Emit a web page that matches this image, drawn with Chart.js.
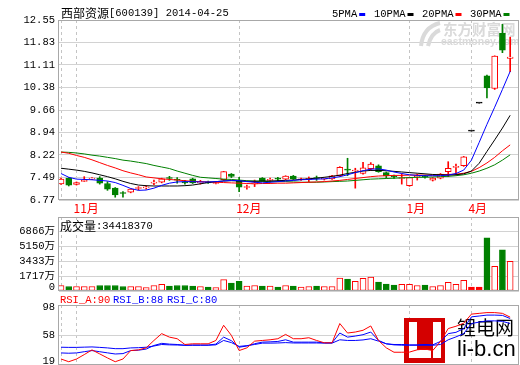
<!DOCTYPE html>
<html>
<head>
<meta charset="utf-8">
<script src="https://cdn.jsdelivr.net/npm/chart.js@4.4.1/dist/chart.umd.min.js"></script>
<style>
  body { margin: 0; background: #fff; width: 520px; height: 365px; overflow: hidden; position: relative; }
  canvas { position: absolute; left: 0; }
</style>
</head>
<body>
<canvas id="price_chart" width="520" height="215" style="top:0"></canvas>
<canvas id="volume_chart" width="520" height="77" style="top:215px"></canvas>
<canvas id="rsi_chart" width="520" height="73" style="top:292px"></canvas>
<script>
// 西部资源 600139, 59 trading days up to 2014-04-25
const stockName = '西部资源';
const stockCode = '600139';
const tradeDate = '2014-04-25';
const lastVolume = '34418370';

const monthTicks = [0, 2, 23, 45, 53]; // day index where a month starts
const monthLabels = ['', '11月', '12月', '1月', '4月'];

const openPrices = [7.29, 7.47, 7.27, 7.37, 7.44, 7.47, 7.30, 7.15, 7.00, 7.02,
    7.14, 7.16, 7.31, 7.34, 7.48, 7.43, 7.35, 7.45, 7.32, 7.34,
    7.30, 7.42, 7.60, 7.38, 7.17, 7.29, 7.47, 7.40, 7.46, 7.44,
    7.54, 7.42, 7.43, 7.48, 7.44, 7.45, 7.55, 7.76, 7.70, 7.62,
    7.78, 7.87, 7.65, 7.53, 7.46, 7.23, 7.52, 7.53, 7.41, 7.47,
    7.68, 7.82, 7.87, 8.98, 9.88, 10.76, 10.35, 12.12, 11.32];
const highPrices = [7.47, 7.49, 7.35, 7.52, 7.49, 7.52, 7.36, 7.17, 7.04, 7.13,
    7.20, 7.23, 7.41, 7.47, 7.53, 7.49, 7.40, 7.47, 7.40, 7.38,
    7.34, 7.69, 7.62, 7.50, 7.25, 7.41, 7.49, 7.47, 7.50, 7.55,
    7.56, 7.47, 7.51, 7.54, 7.48, 7.56, 7.84, 8.11, 7.79, 7.98,
    7.97, 7.90, 7.67, 7.57, 7.61, 7.50, 7.60, 7.56, 7.49, 7.62,
    8.00, 7.92, 8.17, 8.98, 9.88, 10.78, 11.40, 12.41, 12.00];
const lowPrices = [7.27, 7.22, 7.25, 7.36, 7.42, 7.28, 7.08, 6.86, 6.86, 7.00,
    7.09, 7.12, 7.26, 7.32, 7.40, 7.31, 7.28, 7.30, 7.28, 7.30,
    7.29, 7.40, 7.49, 7.04, 7.12, 7.20, 7.37, 7.34, 7.38, 7.42,
    7.43, 7.40, 7.36, 7.40, 7.41, 7.43, 7.53, 7.55, 7.15, 7.60,
    7.72, 7.66, 7.47, 7.46, 7.28, 7.21, 7.41, 7.47, 7.38, 7.45,
    7.52, 7.58, 7.85, 8.98, 9.88, 10.05, 10.32, 11.50, 10.89];
const closePrices = [7.44, 7.25, 7.33, 7.39, 7.45, 7.31, 7.12, 6.93, 6.98, 7.12,
    7.15, 7.18, 7.33, 7.45, 7.46, 7.41, 7.32, 7.32, 7.34, 7.32,
    7.32, 7.68, 7.53, 7.18, 7.19, 7.31, 7.39, 7.42, 7.44, 7.54,
    7.45, 7.44, 7.45, 7.46, 7.46, 7.55, 7.82, 7.73, 7.72, 7.80,
    7.92, 7.68, 7.54, 7.51, 7.48, 7.49, 7.54, 7.51, 7.47, 7.60,
    7.79, 7.84, 8.16, 8.98, 9.88, 10.37, 11.39, 11.58, 11.36];

const ma5 = [7.62, 7.50, 7.44, 7.43, 7.42, 7.40, 7.38, 7.33, 7.24, 7.14,
    7.08, 7.09, 7.15, 7.24, 7.31, 7.35, 7.36, 7.36, 7.35, 7.35,
    7.36, 7.38, 7.40, 7.39, 7.36, 7.34, 7.32, 7.34, 7.36, 7.38,
    7.40, 7.42, 7.43, 7.44, 7.45, 7.48, 7.52, 7.58, 7.65, 7.71,
    7.76, 7.77, 7.73, 7.67, 7.62, 7.58, 7.56, 7.55, 7.55, 7.55,
    7.57, 7.62, 7.73, 8.05, 8.62, 9.20, 9.75, 10.32, 10.90];
const ma10 = [7.79, 7.76, 7.73, 7.69, 7.64, 7.58, 7.52, 7.45, 7.37, 7.30,
    7.25, 7.23, 7.22, 7.22, 7.22, 7.22, 7.23, 7.25, 7.29, 7.33,
    7.36, 7.38, 7.39, 7.38, 7.37, 7.37, 7.38, 7.38, 7.39, 7.40,
    7.41, 7.43, 7.45, 7.47, 7.50, 7.53, 7.57, 7.62, 7.66, 7.70,
    7.72, 7.72, 7.71, 7.69, 7.67, 7.65, 7.63, 7.61, 7.59, 7.58,
    7.57, 7.58, 7.61, 7.70, 7.95, 8.33, 8.70, 9.08, 9.49];
const ma20 = [8.31, 8.27, 8.20, 8.14, 8.06, 7.97, 7.88, 7.80, 7.71, 7.64,
    7.58, 7.51, 7.48, 7.45, 7.43, 7.41, 7.39, 7.37, 7.36, 7.35,
    7.34, 7.33, 7.32, 7.31, 7.30, 7.29, 7.30, 7.30, 7.31, 7.31,
    7.32, 7.33, 7.34, 7.35, 7.36, 7.38, 7.40, 7.43, 7.46, 7.49,
    7.52, 7.54, 7.55, 7.56, 7.56, 7.57, 7.57, 7.57, 7.57, 7.58,
    7.59, 7.60, 7.63, 7.69, 7.81, 7.96, 8.14, 8.35, 8.54];
const ma30 = [8.31, 8.30, 8.28, 8.25, 8.21, 8.18, 8.14, 8.10, 8.05, 8.02,
    7.98, 7.94, 7.88, 7.83, 7.78, 7.70, 7.63, 7.56, 7.50, 7.48,
    7.46, 7.44, 7.43, 7.41, 7.39, 7.38, 7.37, 7.36, 7.36, 7.36,
    7.35, 7.34, 7.34, 7.34, 7.35, 7.36, 7.37, 7.38, 7.40, 7.42,
    7.44, 7.45, 7.46, 7.47, 7.48, 7.49, 7.50, 7.50, 7.51, 7.52,
    7.53, 7.55, 7.58, 7.63, 7.70, 7.79, 7.90, 8.05, 8.22];

// volume in 万 (10k shares)
const volumes = [640, 525, 525, 525, 525, 640, 640, 640, 525, 525,
    525, 410, 640, 760, 560, 640, 640, 560, 525, 445,
    410, 1310, 910, 1110, 560, 640, 560, 560, 445, 640,
    560, 445, 525, 560, 525, 525, 1495, 1380, 1110, 1460,
    1610, 1030, 795, 680, 760, 760, 640, 680, 525, 640,
    990, 760, 1225, 445, 445, 6165, 2860, 4765, 3442];

const rsiA = [26.9, 23.3, 26.9, 32.7, 38.9, 33.6, 28.3, 23.3, 26.9, 38.0,
    38.9, 41.6, 51.3, 60.3, 55.7, 53.6, 46.0, 46.9, 46.9, 46.9,
    51.3, 71.3, 58.0, 38.0, 41.6, 50.4, 51.3, 52.2, 53.6, 59.3,
    53.6, 53.6, 54.9, 51.3, 48.2, 48.2, 73.6, 61.1, 62.4, 64.7,
    70.4, 51.3, 41.6, 35.8, 35.8, 36.0, 39.0, 40.0, 38.0, 50.0,
    67.0, 70.0, 74.0, 86.0, 87.0, 88.0, 88.0, 87.0, 82.0];
const rsiB = [34.9, 34.5, 34.9, 36.5, 38.0, 36.5, 35.0, 33.5, 34.0, 38.0,
    38.5, 40.0, 44.7, 47.5, 46.5, 46.0, 45.0, 45.3, 45.3, 45.3,
    46.5, 55.7, 51.0, 42.4, 44.0, 47.0, 49.1, 49.5, 50.0, 52.2,
    49.1, 49.1, 49.1, 49.1, 48.2, 48.2, 61.1, 55.7, 57.1, 58.9,
    62.4, 51.3, 46.9, 46.0, 46.0, 45.5, 45.5, 46.0, 45.5, 50.0,
    60.3, 62.0, 66.9, 82.4, 83.5, 84.7, 84.7, 84.3, 80.2];
const rsiC = [42.4, 42.2, 42.2, 42.5, 42.8, 42.2, 41.5, 40.5, 40.5, 41.5,
    41.8, 42.4, 44.0, 46.0, 45.5, 45.3, 45.0, 45.0, 45.0, 45.0,
    45.5, 51.3, 48.5, 43.5, 44.5, 46.0, 47.8, 47.8, 48.0, 48.5,
    48.0, 48.0, 48.0, 48.0, 47.8, 47.8, 52.2, 51.3, 51.3, 52.0,
    53.6, 50.4, 46.9, 45.5, 45.1, 45.0, 45.0, 45.0, 45.0, 46.0,
    52.2, 56.0, 60.3, 73.6, 75.5, 77.1, 77.1, 76.5, 73.6];
const rsiLast = { a: 90, b: 88, c: 80 };

const priceTicks = [6.77, 7.49, 8.22, 8.94, 9.66, 10.38, 11.11, 11.83, 12.55];
const volumeTicks = [0, 1717, 3433, 5150, 6866];
const volumeTickLabels = ['0', '1717万', '3433万', '5150万', '6866万'];
const rsiTicks = [19, 58, 98];

const UP = '#ff0000', DOWN = '#008000', FLAT = '#000000';
const MONO = '"Liberation Mono", "DejaVu Sans Mono", monospace';
const CJK = '"Noto Sans CJK SC", sans-serif';
const tickFont = { family: '"Liberation Mono", "Noto Sans CJK SC", monospace', size: 10.5 };

const dir = closePrices.map((c, i) => c > openPrices[i] ? 1 : (c < openPrices[i] ? -1 : 0));
const pts = arr => arr.map((v, i) => ({ x: i, y: v }));

function xAxis(showLabels) {
    return {
        type: 'linear', min: -0.26, max: 59.14, offset: false,
        afterBuildTicks: s => { s.ticks = monthTicks.map(v => ({ value: v })); },
        afterFit: s => {
            s.height = showLabels ? 15 : 0;
            s.paddingLeft = s.paddingRight = s.paddingTop = s.paddingBottom = 0;
        },
        grid: { color: '#c4c4c4', drawTicks: false, offset: false },
        border: { display: false, dash: [3, 3] },
        ticks: {
            display: showLabels, color: '#ff0000', autoSkip: false, maxRotation: 0,
            align: 'start', labelOffset: -3, padding: 1,
            font: { family: CJK, size: 12 },
            callback: (v, i) => monthLabels[i]
        }
    };
}

function yAxis(min, max, ticks, label) {
    return {
        min: min, max: max,
        afterBuildTicks: s => { s.ticks = ticks.map(v => ({ value: v })); },
        afterFit: s => {
            s.width = 59;
            s.paddingLeft = s.paddingRight = s.paddingTop = s.paddingBottom = 0;
        },
        grid: { color: '#d2d2d2', drawTicks: false },
        border: { display: false },
        ticks: { color: '#000', font: tickFont, padding: 4, autoSkip: false, callback: label }
    };
}

// grey frame round each panel
const panelFrame = {
    id: 'panelFrame',
    afterDraw(chart) {
        const { ctx, chartArea: a } = chart;
        ctx.save();
        ctx.strokeStyle = '#a8a8a8';
        ctx.lineWidth = 1;
        ctx.strokeRect(a.left - 0.5, a.top + 0.5, a.right - a.left, a.bottom - a.top - 1);
        ctx.restore();
    }
};

// keep the end tick labels inside their panel
const clampLabels = {
    id: 'clampLabels',
    beforeDraw(chart) {
        const a = chart.chartArea;
        chart.scales.y.getLabelItems().forEach(item => {
            const t = item.options.translation;
            t[1] = Math.min(Math.max(t[1], a.top + 2), a.bottom - 4);
        });
    }
};

const priceHeader = {
    id: 'priceHeader',
    beforeDatasetsDraw(chart) {
        const ctx = chart.ctx;
        ctx.save();
        ctx.fillStyle = '#dadada';
        ctx.strokeStyle = '#dadada';
        ctx.lineWidth = 4;
        ctx.beginPath();
        ctx.moveTo(421, 46);
        ctx.quadraticCurveTo(423, 27, 440, 23);
        ctx.stroke();
        ctx.beginPath();
        ctx.moveTo(428, 46);
        ctx.quadraticCurveTo(431, 33, 440, 30);
        ctx.stroke();
        ctx.textBaseline = 'middle';
        ctx.font = 'bold 14.5px ' + CJK;
        ctx.fillText('东方财富网', 443, 29);
        ctx.font = 'bold 10.5px "Liberation Sans", sans-serif';
        ctx.fillText('eastmoney.com', 441, 42);
        ctx.restore();
    },
    afterDraw(chart) {
        const ctx = chart.ctx;
        ctx.save();
        ctx.textBaseline = 'middle';
        ctx.fillStyle = '#000';
        ctx.font = '12px ' + CJK;
        ctx.fillText(stockName, 61, 13);
        const w = ctx.measureText(stockName).width;
        ctx.font = '10.5px ' + MONO;
        ctx.fillText('[' + stockCode + '] ' + tradeDate, 61 + w, 13.5);
        const legend = [['5PMA', '#0000ff', 332], ['10PMA', '#000000', 374], ['20PMA', '#ff0000', 422], ['30PMA', '#008000', 470]];
        legend.forEach(([name, color, x]) => {
            ctx.fillStyle = '#000';
            ctx.fillText(name, x, 14);
            ctx.fillStyle = color;
            ctx.fillRect(x + 6.3 * name.length + 2, 13, 6, 3);
        });
        ctx.restore();
    }
};

const volumeHeader = {
    id: 'volumeHeader',
    afterDraw(chart) {
        const ctx = chart.ctx;
        ctx.save();
        ctx.textBaseline = 'middle';
        ctx.fillStyle = '#000';
        ctx.font = '12px ' + CJK;
        ctx.fillText('成交量', 60, 11);
        const w = ctx.measureText('成交量').width;
        ctx.font = '10.5px ' + MONO;
        ctx.fillText(':' + lastVolume, 60 + w, 11.5);
        ctx.restore();
    }
};

const rsiHeader = {
    id: 'rsiHeader',
    beforeDatasetsDraw(chart) {
        // li-b.cn watermark, lines run over it
        const ctx = chart.ctx;
        ctx.save();
        ctx.fillStyle = '#d40000';
        ctx.fillRect(404, 26, 41, 45);
        ctx.fillStyle = '#fff';
        ctx.fillRect(409, 30, 8, 36);
        ctx.fillRect(409, 58, 22, 8);
        ctx.fillRect(433, 30, 8, 36);
        ctx.fillStyle = '#000';
        ctx.textBaseline = 'middle';
        ctx.font = '19px ' + CJK;
        ctx.fillText('锂电网', 457, 36);
        ctx.textBaseline = 'alphabetic';
        ctx.font = '22px "Liberation Sans", sans-serif';
        ctx.fillText('li-b.cn', 457, 64);
        ctx.restore();
    },
    afterDraw(chart) {
        const ctx = chart.ctx;
        ctx.save();
        ctx.textBaseline = 'middle';
        ctx.font = '10.5px ' + MONO;
        ctx.fillStyle = '#ff0000';
        ctx.fillText('RSI_A:' + rsiLast.a, 60, 8);
        ctx.fillStyle = '#0000ff';
        ctx.fillText('RSI_B:' + rsiLast.b, 113, 8);
        ctx.fillText('RSI_C:' + rsiLast.c, 167, 8);
        ctx.restore();
    }
};

function maLine(label, data, color) {
    return { type: 'line', label: label, data: pts(data), borderColor: color, borderWidth: 1,
        pointRadius: 0, tension: 0, order: 0 };
}

function initPriceChart() {
    const ctx = document.getElementById('price_chart').getContext('2d');
    const edge = dir.map(d => d > 0 ? UP : (d < 0 ? DOWN : FLAT));
    return new Chart(ctx, {
        type: 'bar',
        data: {
            datasets: [
                maLine('5PMA', ma5, '#0000ff'),
                maLine('10PMA', ma10, '#000000'),
                maLine('20PMA', ma20, '#ff0000'),
                maLine('30PMA', ma30, '#008000'),
                {
                    label: 'body',
                    data: openPrices.map((o, i) => ({ x: i, y: [o, closePrices[i]] })),
                    backgroundColor: dir.map(d => d > 0 ? '#ffffff' : (d < 0 ? DOWN : FLAT)),
                    borderColor: edge, borderWidth: 1, borderSkipped: false,
                    barThickness: 6, minBarLength: 1, grouped: false, order: 1
                },
                {
                    label: 'wick',
                    data: lowPrices.map((l, i) => ({ x: i, y: [l, highPrices[i]] })),
                    backgroundColor: edge, borderWidth: 0,
                    barThickness: 1, grouped: false, order: 2
                }
            ]
        },
        options: {
            responsive: false, animation: false,
            layout: { autoPadding: false, padding: { top: 20, right: 1, bottom: 0, left: 0 } },
            plugins: { legend: { display: false }, tooltip: { enabled: false } },
            scales: {
                x: xAxis(true),
                y: yAxis(6.77, 12.55, priceTicks, v => Number(v).toFixed(2))
            }
        },
        plugins: [panelFrame, priceHeader]
    });
}

function initVolumeChart() {
    const ctx = document.getElementById('volume_chart').getContext('2d');
    return new Chart(ctx, {
        type: 'bar',
        data: {
            datasets: [{
                label: '成交量',
                data: pts(volumes),
                backgroundColor: dir.map(d => d > 0 ? '#ffffff' : (d < 0 ? DOWN : UP)),
                borderColor: dir.map(d => d < 0 ? DOWN : UP),
                borderWidth: 1, borderSkipped: false, barThickness: 6
            }]
        },
        options: {
            responsive: false, animation: false,
            layout: { autoPadding: false, padding: { top: 2, right: 1, bottom: 1, left: 0 } },
            plugins: { legend: { display: false }, tooltip: { enabled: false } },
            scales: {
                x: xAxis(false),
                y: yAxis(0, 8570, volumeTicks, (v, i) => volumeTickLabels[i])
            }
        },
        plugins: [panelFrame, clampLabels, volumeHeader]
    });
}

function initRsiChart() {
    const ctx = document.getElementById('rsi_chart').getContext('2d');
    const rsiLine = (label, data, color) => ({ type: 'line', label: label, data: pts(data),
        borderColor: color, borderWidth: 1, pointRadius: 0, tension: 0 });
    return new Chart(ctx, {
        type: 'line',
        data: {
            datasets: [
                rsiLine('RSI_A', rsiA, '#ff0000'),
                rsiLine('RSI_B', rsiB, '#0000ff'),
                rsiLine('RSI_C', rsiC, '#0000ff')
            ]
        },
        options: {
            responsive: false, animation: false,
            layout: { autoPadding: false, padding: { top: 13, right: 1, bottom: 0, left: 0 } },
            plugins: { legend: { display: false }, tooltip: { enabled: false } },
            scales: {
                x: xAxis(false),
                y: yAxis(19, 98, rsiTicks, v => String(v))
            }
        },
        plugins: [panelFrame, clampLabels, rsiHeader]
    });
}

initPriceChart();
initVolumeChart();
initRsiChart();
</script>
</body>
</html>
